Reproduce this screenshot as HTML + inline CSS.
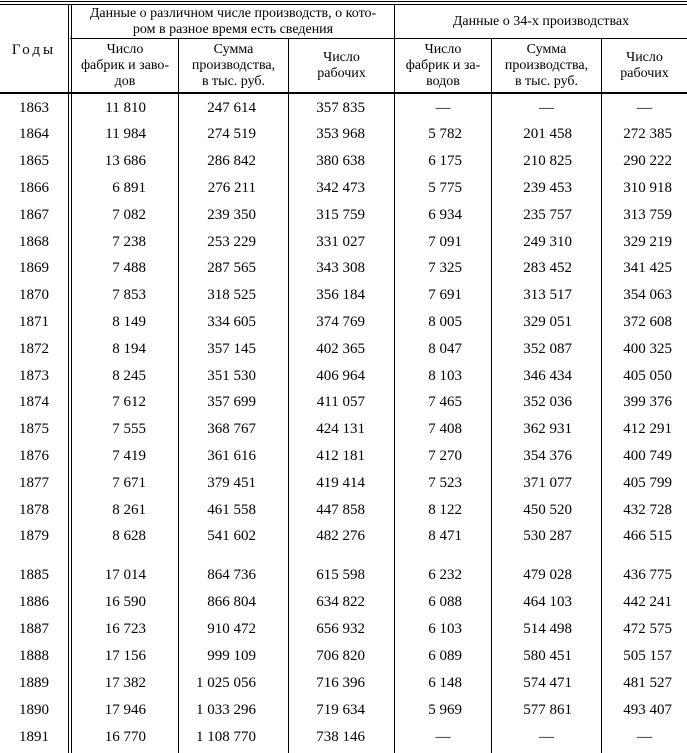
<!DOCTYPE html>
<html><head><meta charset="utf-8"><style>
body{margin:0;background:#fff;width:687px;height:753px;overflow:hidden;font-family:"Liberation Serif","Times New Roman","DejaVu Serif",serif;color:#000;position:relative}
.h{position:absolute;background:#000}
.t{position:absolute;font-size:14px;line-height:16px;text-align:center;font-family:"Liberation Serif","DejaVu Serif",serif}
.r{position:absolute;font-size:15px;height:20px;line-height:20px}
</style></head><body>
<div class="h" style="left:0;top:1px;width:687px;height:1px"></div>
<div class="h" style="left:0;top:4px;width:687px;height:1px"></div>
<div class="h" style="left:70px;top:38px;width:617px;height:1px"></div>
<div class="h" style="left:0;top:92px;width:687px;height:2px"></div>
<div class="h" style="left:68px;top:5px;width:1px;height:748px"></div>
<div class="h" style="left:71px;top:5px;width:1px;height:748px"></div>
<div class="h" style="left:394px;top:5px;width:1px;height:748px"></div>
<div class="h" style="left:178px;top:38px;width:1px;height:715px"></div>
<div class="h" style="left:288px;top:38px;width:1px;height:715px"></div>
<div class="h" style="left:491px;top:38px;width:1px;height:715px"></div>
<div class="h" style="left:601px;top:38px;width:1px;height:715px"></div>

<div class="t" style="left:72px;top:6px;width:322px">Данные о различном числе производств, о кото-<br>ром в разное время есть сведения</div>
<div class="t" style="left:395px;top:14px;width:292px">Данные о 34-х производствах</div>
<div class="t" style="left:0;top:42px;width:68px;font-size:15px;letter-spacing:3px">Годы</div>
<div class="t" style="left:72px;top:42px;width:106px">Число<br>фабрик и заво-<br>дов</div>
<div class="t" style="left:179px;top:42px;width:109px">Сумма<br>производства,<br>в тыс. руб.</div>
<div class="t" style="left:289px;top:50px;width:105px">Число<br>рабочих</div>
<div class="t" style="left:395px;top:42px;width:96px">Число<br>фабрик и за-<br>водов</div>
<div class="t" style="left:492px;top:42px;width:109px">Сумма<br>производства,<br>в тыс. руб.</div>
<div class="t" style="left:602px;top:50px;width:85px">Число<br>рабочих</div>

<div id="rows"></div>
<script>
var d=[["1863","11 810","247 614","357 835","—","—","—"],
["1864","11 984","274 519","353 968","5 782","201 458","272 385"],
["1865","13 686","286 842","380 638","6 175","210 825","290 222"],
["1866","6 891","276 211","342 473","5 775","239 453","310 918"],
["1867","7 082","239 350","315 759","6 934","235 757","313 759"],
["1868","7 238","253 229","331 027","7 091","249 310","329 219"],
["1869","7 488","287 565","343 308","7 325","283 452","341 425"],
["1870","7 853","318 525","356 184","7 691","313 517","354 063"],
["1871","8 149","334 605","374 769","8 005","329 051","372 608"],
["1872","8 194","357 145","402 365","8 047","352 087","400 325"],
["1873","8 245","351 530","406 964","8 103","346 434","405 050"],
["1874","7 612","357 699","411 057","7 465","352 036","399 376"],
["1875","7 555","368 767","424 131","7 408","362 931","412 291"],
["1876","7 419","361 616","412 181","7 270","354 376","400 749"],
["1877","7 671","379 451","419 414","7 523","371 077","405 799"],
["1878","8 261","461 558","447 858","8 122","450 520","432 728"],
["1879","8 628","541 602","482 276","8 471","530 287","466 515"],
["1885","17 014","864 736","615 598","6 232","479 028","436 775"],
["1886","16 590","866 804","634 822","6 088","464 103","442 241"],
["1887","16 723","910 472","656 932","6 103","514 498","472 575"],
["1888","17 156","999 109","706 820","6 089","580 451","505 157"],
["1889","17 382","1 025 056","716 396","6 148","574 471","481 527"],
["1890","17 946","1 033 296","719 634","5 969","577 861","493 407"],
["1891","16 770","1 108 770","738 146","—","—","—"]];
var ends=[0,146,256,365,462,572,672];
var cl=[0,72,179,289,395,492,602],cr=[68,178,288,394,491,601,687];
var h="";
d.forEach(function(r,i){
 var c=i<17?107.5+i*26.8:575+(i-17)*27;
 var top=c-10;
 h+='<div class="r" style="left:0;width:68px;text-align:center;top:'+top+'px">'+r[0]+'</div>';
 for(var j=1;j<7;j++){
  if(r[j]=="—") h+='<div class="r" style="left:'+cl[j]+'px;width:'+(cr[j]-cl[j])+'px;text-align:center;top:'+top+'px">—</div>';
  else h+='<div class="r" style="left:'+(cl[j])+'px;width:'+(ends[j]-cl[j])+'px;text-align:right;top:'+top+'px">'+r[j]+'</div>';
 }
});
document.getElementById("rows").innerHTML=h;
</script>
</body></html>
